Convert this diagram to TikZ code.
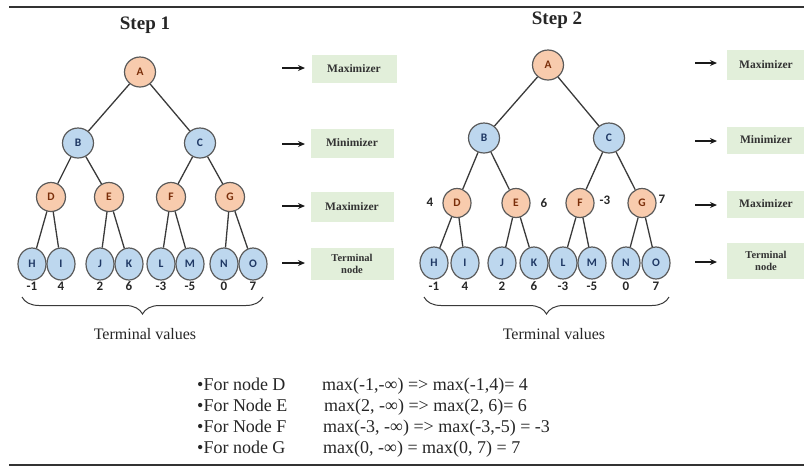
\documentclass[tikz,border=0pt]{standalone}
\usepackage{fontspec}
\setmainfont{Liberation Serif}
\newfontfamily\lettersf{Carlito}
\usetikzlibrary{arrows.meta,decorations.pathreplacing,shapes.geometric}
\definecolor{maxfill}{HTML}{F8CBAD}
\definecolor{minfill}{HTML}{BDD7EE}
\definecolor{boxfill}{HTML}{E2EFDA}
\definecolor{nodeedge}{HTML}{5A5A5A}
\definecolor{edgecol}{HTML}{3A3A3A}
\definecolor{maxtext}{HTML}{7A2E0A}
\definecolor{mintext}{HTML}{1F3864}
\tikzset{
  maxnode/.style={ellipse, draw=nodeedge, line width=1.2pt, fill=maxfill, minimum width=31pt, minimum height=30pt, inner sep=0pt, font=\lettersf\bfseries\fontsize{11.5}{11.5}\selectfont, text=maxtext},
  minnode/.style={ellipse, draw=nodeedge, line width=1.2pt, fill=minfill, minimum width=31pt, minimum height=30pt, inner sep=0pt, font=\lettersf\bfseries\fontsize{11.5}{11.5}\selectfont, text=mintext},
  leafnode/.style={minnode, minimum width=28pt, minimum height=32pt},
  edge/.style={draw=edgecol, line width=1.3pt},
  rolebox/.style={fill=boxfill, minimum width=83pt, minimum height=29pt, inner sep=0pt, font=\bfseries\fontsize{11.5}{12.5}\selectfont, align=center, text=black!80},
  rolearrow/.style={-{Stealth[length=7pt,width=6pt]}, line width=1.6pt, draw=black!90},
  val/.style={font=\lettersf\bfseries\fontsize{13}{13}\selectfont, text=black!85, inner sep=0pt},
  title/.style={font=\bfseries\fontsize{19}{19}\selectfont, text=black!85},
  bracestyle/.style={draw=edgecol, line width=1pt, decorate, decoration={brace, mirror, amplitude=17pt}},
  tvtext/.style={font=\fontsize{16}{16}\selectfont, text=black!85},
  bottomtext/.style={anchor=base west, inner sep=0pt, font=\fontsize{18}{21}\selectfont, text=black!85},
  rule/.style={draw=black!80, line width=2pt}
}
\begin{document}
\begin{tikzpicture}[x=1pt,y=-1pt]
\useasboundingbox (0,0) rectangle (804,467);
% rules
\coordinate (t1) at (9,6.5); \coordinate (t2) at (804,6.5);
\coordinate (b1) at (9,465); \coordinate (b2) at (804,465);
\draw[rule] (t1) -- (t2);
\draw[rule, line width=2.5pt] (b1) -- (b2);

% ---------- Step 1 ----------
\node[title] (title1) at (145,25) {Step 1};
\node[maxnode] (A1) at (140,72) {A};
\node[minnode] (B1) at (78,143) {B};
\node[minnode] (C1) at (200,143) {C};
\node[maxnode, minimum width=29pt, minimum height=29pt] (D1) at (51,197) {D};
\node[maxnode, minimum width=29pt, minimum height=29pt] (E1) at (109,197) {E};
\node[maxnode, minimum width=29pt, minimum height=29pt] (F1) at (171,197) {F};
\node[maxnode, minimum width=29pt, minimum height=29pt] (G1) at (230,197) {G};
\node[leafnode] (H1) at (32,264) {H};
\node[leafnode] (I1) at (61,264) {I};
\node[leafnode] (J1) at (100,264) {J};
\node[leafnode] (K1) at (129,264) {K};
\node[leafnode] (L1) at (161,264) {L};
\node[leafnode] (M1) at (190,264) {M};
\node[leafnode] (N1) at (224,264) {N};
\node[leafnode] (O1) at (253,264) {O};
\foreach \p/\c in {A1/B1,A1/C1,B1/D1,B1/E1,C1/F1,C1/G1,D1/H1,D1/I1,E1/J1,E1/K1,F1/L1,F1/M1,G1/N1,G1/O1}
  \draw[edge] (\p) -- (\c);
\node[val] (vH1) at (32,286) {-1};
\node[val] (vI1) at (61,286) {4};
\node[val] (vJ1) at (100,286) {2};
\node[val] (vK1) at (129,286) {6};
\node[val] (vL1) at (161,286) {-3};
\node[val] (vM1) at (190,286) {-5};
\node[val] (vN1) at (224,286) {0};
\node[val] (vO1) at (253,286) {7};
\coordinate (br1s) at (22,297); \coordinate (br1e) at (263,297);
\draw[bracestyle] (br1s) -- (br1e);
\node[tvtext] (tv1) at (145,334) {Terminal values};

% role boxes step 1
\node[rolebox, minimum width=85pt, minimum height=28pt] (r1a) at (354,69) {Maximizer};
\node[rolebox] (r1b) at (352,143) {Minimizer};
\node[rolebox, minimum height=30pt] (r1c) at (352,207) {Maximizer};
\node[rolebox, minimum height=32pt, font=\bfseries\fontsize{10.5}{12}\selectfont] (r1d) at (352,264) {Terminal\\node};
\coordinate (a1a) at (282,68); \coordinate (a1b) at (282,144);
\coordinate (a1c) at (282,206); \coordinate (a1d) at (282,263);
\draw[rolearrow] (a1a) -- ++(23,0);
\draw[rolearrow] (a1b) -- ++(23,0);
\draw[rolearrow] (a1c) -- ++(23,0);
\draw[rolearrow] (a1d) -- ++(23,0);

% ---------- Step 2 ----------
\node[title] (title2) at (557,20) {Step 2};
\node[maxnode] (A2) at (548,65) {A};
\node[minnode] (B2) at (484,138) {B};
\node[minnode] (C2) at (609,138) {C};
\node[maxnode, minimum width=28pt, minimum height=29pt] (D2) at (457,203) {D};
\node[maxnode, minimum width=28pt, minimum height=29pt] (E2) at (516,203) {E};
\node[maxnode, minimum width=28pt, minimum height=29pt] (F2) at (580,203) {F};
\node[maxnode, minimum width=28pt, minimum height=29pt] (G2) at (642,203) {G};
\node[leafnode] (H2) at (434,263) {H};
\node[leafnode] (I2) at (465,263) {I};
\node[leafnode] (J2) at (502,263) {J};
\node[leafnode] (K2) at (534,263) {K};
\node[leafnode] (L2) at (563,263) {L};
\node[leafnode] (M2) at (592,263) {M};
\node[leafnode] (N2) at (626,263) {N};
\node[leafnode] (O2) at (656,263) {O};
\foreach \p/\c in {A2/B2,A2/C2,B2/D2,B2/E2,C2/F2,C2/G2,D2/H2,D2/I2,E2/J2,E2/K2,F2/L2,F2/M2,G2/N2,G2/O2}
  \draw[edge] (\p) -- (\c);
\node[val] (vD2) at (430,202) {4};
\node[val] (vE2) at (544,203) {6};
\node[val] (vF2) at (605,200) {-3};
\node[val] (vG2) at (662,199) {7};
\node[val] (vH2) at (434,286) {-1};
\node[val] (vI2) at (465,286) {4};
\node[val] (vJ2) at (502,286) {2};
\node[val] (vK2) at (534,286) {6};
\node[val] (vL2) at (563,286) {-3};
\node[val] (vM2) at (592,286) {-5};
\node[val] (vN2) at (626,286) {0};
\node[val] (vO2) at (656,286) {7};
\coordinate (br2s) at (424,297); \coordinate (br2e) at (669,297);
\draw[bracestyle] (br2s) -- (br2e);
\node[tvtext] (tv2) at (554,334) {Terminal values};

% role boxes step 2
\node[rolebox, minimum width=79pt, minimum height=30pt] (r2a) at (766,65) {Maximizer};
\node[rolebox, minimum width=79pt, minimum height=27pt] (r2b) at (766,140) {Minimizer};
\node[rolebox, minimum width=79pt, minimum height=27pt] (r2c) at (766,204) {Maximizer};
\node[rolebox, minimum width=79pt, minimum height=36pt, font=\bfseries\fontsize{10.5}{12}\selectfont] (r2d) at (766,261) {Terminal\\node};
\coordinate (a2a) at (695,63); \coordinate (a2b) at (695,141);
\coordinate (a2c) at (695,205); \coordinate (a2d) at (695,262);
\draw[rolearrow] (a2a) -- ++(22,0);
\draw[rolearrow] (a2b) -- ++(22,0);
\draw[rolearrow] (a2c) -- ++(22,0);
\draw[rolearrow] (a2d) -- ++(22,0);

% ---------- bottom text ----------
\node[bottomtext] (l1) at (197,390) {•For node D};
\node[bottomtext] (l2) at (197,411) {•For Node E};
\node[bottomtext] (l3) at (197,432) {•For Node F};
\node[bottomtext] (l4) at (197,453) {•For node G};
\node[bottomtext] (m1) at (322,390) {max(-1,-∞) => max(-1,4)= 4};
\node[bottomtext] (m2) at (324,411) {max(2, -∞) => max(2, 6)= 6};
\node[bottomtext] (m3) at (323,432) {max(-3, -∞) => max(-3,-5) = -3};
\node[bottomtext] (m4) at (323,453) {max(0, -∞) = max(0, 7) = 7};
\end{tikzpicture}
\end{document}
